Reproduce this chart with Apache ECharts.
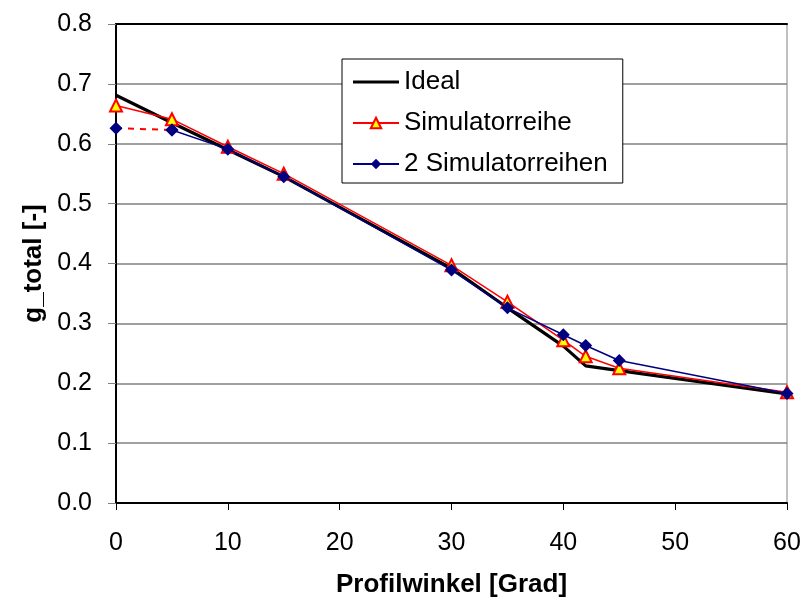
<!DOCTYPE html>
<html>
<head>
<meta charset="utf-8">
<script src="https://cdn.jsdelivr.net/npm/echarts@6/dist/echarts.min.js"></script>
<style>html,body{margin:0;padding:0;background:#fff}#c{width:803px;height:601px}</style>
</head>
<body>
<div id="c"></div>
<script>
var angles = [0, 5, 10, 15, 30, 35, 40, 42, 45, 60];
var ideal = [0.681, 0.635, 0.590, 0.545, 0.392, 0.326, 0.262, 0.229, 0.221, 0.182];
var simulatorreihe = [0.664, 0.641, 0.595, 0.550, 0.397, 0.336, 0.272, 0.245, 0.225, 0.185];
var zweiSimulatorreihen = [0.626, 0.623, 0.591, 0.545, 0.389, 0.326, 0.281, 0.263, 0.238, 0.183];
var yTicks = [0, 0.1, 0.2, 0.3, 0.4, 0.5, 0.6, 0.7, 0.8];
var xTicks = [0, 10, 20, 30, 40, 50, 60];

function pairs(xs, ys) { return xs.map(function (x, i) { return [x, ys[i]]; }); }

var font = 'Liberation Sans, Arial, sans-serif';
var chart = echarts.init(document.getElementById('c'), null, { renderer: 'canvas' });
chart.setOption({
  animation: false,
  backgroundColor: '#ffffff',
  grid: { left: 116, right: 16, top: 24, bottom: 98, show: true, borderColor: '#808080', borderWidth: 1,
    outerBoundsMode: 'none', containLabel: false },
  legend: {
    data: [
      { name: 'Ideal', icon: 'path://M0,0 H46 V3 H0 Z', itemStyle: { color: '#000' } },
      { name: 'Simulatorreihe' },
      { name: '2 Simulatorreihen' }
    ],
    orient: 'vertical',
    left: 342, top: 59,
    backgroundColor: '#ffffff',
    borderColor: '#000000', borderWidth: 1, borderRadius: 0,
    padding: [9, 15, 5, 10],
    itemWidth: 46, itemHeight: 13, itemGap: 13,
    textStyle: { fontFamily: font, fontSize: 26, color: '#000', lineHeight: 28 }
  },
  xAxis: [{
    type: 'value', min: xTicks[0], max: xTicks[xTicks.length - 1], interval: 10,
    name: 'Profilwinkel [Grad]', nameLocation: 'middle', nameGap: 69,
    nameTextStyle: { fontFamily: font, fontSize: 26, fontWeight: 'bold', color: '#000' },
    axisLine: { lineStyle: { color: '#000', width: 2 } },
    axisTick: { show: true, length: 7, inside: false, lineStyle: { color: '#000' } },
    axisLabel: { fontFamily: font, fontSize: 25, color: '#000', margin: 28 },
    splitLine: { show: false }
  }, {
    type: 'value', position: 'top', min: 0, max: 60,
    axisLine: { show: true, lineStyle: { color: '#000', width: 2 } },
    axisTick: { show: false }, axisLabel: { show: false }, splitLine: { show: false }
  }],
  yAxis: {
    type: 'value', min: 0, max: 0.8, interval: 0.1,
    name: 'g_total [-]', nameLocation: 'middle', nameGap: 60,
    nameTextStyle: { fontFamily: font, fontSize: 26, fontWeight: 'bold', color: '#000' },
    axisLine: { show: true, lineStyle: { color: '#000', width: 2 } },
    axisTick: { show: true, length: 8, lineStyle: { color: '#808080' } },
    axisLabel: { fontFamily: font, fontSize: 25, color: '#000', margin: 24,
      formatter: function (v) { return v.toFixed(1); } },
    splitLine: { show: true, lineStyle: { color: '#808080', width: 1.5 } }
  },
  series: [
    {
      name: 'Ideal', type: 'line', data: pairs(angles, ideal),
      symbol: 'none',
      lineStyle: { color: '#000', width: 3.2 }, itemStyle: { color: '#000' }, z: 2
    },
    {
      name: 'Simulatorreihe', type: 'line', data: pairs(angles, simulatorreihe),
      symbol: 'triangle', symbolSize: 12,
      lineStyle: { color: '#ff0000', width: 1.5 },
      itemStyle: { color: '#ffff00', borderColor: '#ff0000', borderWidth: 2 }, z: 3
    },
    {
      name: '2 Simulatorreihen', type: 'line', data: pairs(angles.slice(1), zweiSimulatorreihen.slice(1)),
      symbol: 'diamond', symbolSize: 13,
      lineStyle: { color: '#000080', width: 1.5 },
      itemStyle: { color: '#000080' }, z: 4
    },
    {
      name: 'verbindung', type: 'line', data: pairs(angles.slice(0, 2), zweiSimulatorreihen.slice(0, 2)),
      symbol: 'diamond', symbolSize: 13,
      lineStyle: { color: '#ff0000', width: 2, type: [6, 6] },
      itemStyle: { color: '#000080' }, z: 4
    }
  ]
});
</script>
</body>
</html>
